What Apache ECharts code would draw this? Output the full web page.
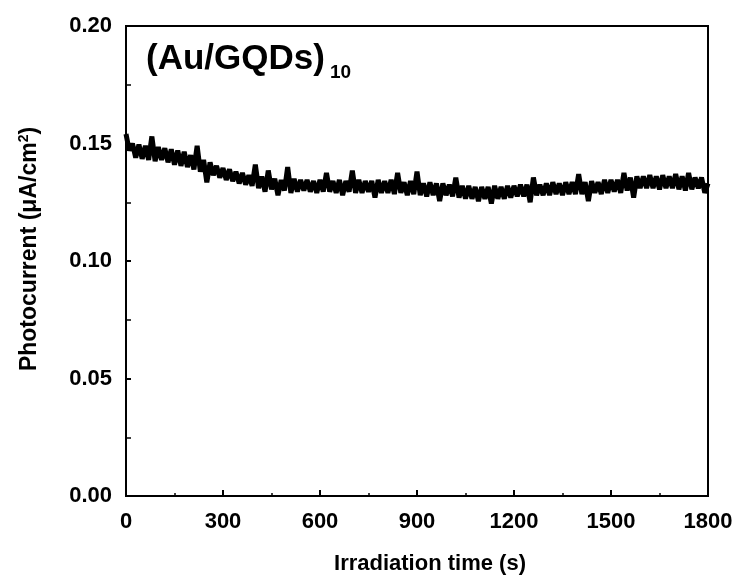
<!DOCTYPE html>
<html>
<head>
<meta charset="utf-8">
<script src="https://cdn.jsdelivr.net/npm/echarts@6/dist/echarts.min.js"></script>
<style>html,body{margin:0;padding:0;background:#fff}#c{width:744px;height:581px}</style>
</head>
<body>
<div id="c"></div>
<script>
const timeStep = 10; // seconds between samples
const photocurrent = [
0.1540,0.1470,0.1500,0.1440,0.1495,0.1435,0.1490,0.1430,0.1530,0.1425,
0.1485,0.1430,0.1480,0.1420,0.1475,0.1410,0.1470,0.1405,0.1465,0.1400,
0.1450,0.1390,0.1490,0.1380,0.1430,0.1335,0.1420,0.1365,0.1405,0.1355,
0.1395,0.1345,0.1390,0.1340,0.1380,0.1330,0.1375,0.1325,0.1365,0.1320,
0.1410,0.1310,0.1360,0.1295,0.1385,0.1305,0.1350,0.1280,0.1345,0.1300,
0.1400,0.1290,0.1350,0.1295,0.1345,0.1300,0.1345,0.1295,0.1340,0.1290,
0.1345,0.1295,0.1375,0.1295,0.1340,0.1290,0.1345,0.1280,0.1340,0.1295,
0.1385,0.1290,0.1345,0.1290,0.1340,0.1295,0.1340,0.1270,0.1345,0.1290,
0.1340,0.1290,0.1345,0.1285,0.1375,0.1290,0.1335,0.1280,0.1340,0.1285,
0.1380,0.1280,0.1330,0.1275,0.1335,0.1280,0.1330,0.1255,0.1330,0.1280,
0.1325,0.1275,0.1355,0.1270,0.1320,0.1265,0.1320,0.1265,0.1315,0.1255,
0.1315,0.1265,0.1315,0.1245,0.1320,0.1265,0.1315,0.1265,0.1320,0.1270,
0.1320,0.1275,0.1325,0.1275,0.1325,0.1250,0.1355,0.1280,0.1325,0.1280,
0.1330,0.1280,0.1335,0.1285,0.1330,0.1280,0.1335,0.1285,0.1335,0.1285,
0.1370,0.1285,0.1335,0.1255,0.1340,0.1290,0.1335,0.1285,0.1345,0.1290,
0.1345,0.1295,0.1345,0.1290,0.1375,0.1300,0.1355,0.1270,0.1360,0.1310,
0.1360,0.1310,0.1365,0.1310,0.1360,0.1305,0.1365,0.1310,0.1360,0.1310,
0.1370,0.1305,0.1360,0.1300,0.1375,0.1305,0.1355,0.1310,0.1355,0.1290,
0.1330
];
const xTicks = [0, 300, 600, 900, 1200, 1500, 1800];
const yTicks = [0.00, 0.05, 0.10, 0.15, 0.20];

const data = photocurrent.map((v, i) => [i * timeStep, v]);
const font = '"Liberation Sans", Arial, sans-serif';
const chart = echarts.init(document.getElementById('c'));
chart.setOption({
  animation: false,
  backgroundColor: '#fff',
  grid: { left: 126, right: 36, top: 26, bottom: 85, outerBoundsMode: 'none', containLabel: false,
          show: true, borderColor: '#000', borderWidth: 2, backgroundColor: 'transparent' },
  title: {
    text: '(Au/GQDs){s|10}',
    left: 141, top: 32,
    textStyle: { fontFamily: font, fontWeight: 'bold', fontSize: 35, color: '#000',
      rich: { s: { fontFamily: font, fontWeight: 'bold', fontSize: 19, color: '#000', padding: [26, 0, 0, 5] } } }
  },
  xAxis: {
    type: 'value', min: xTicks[0], max: xTicks[xTicks.length - 1], interval: 300,
    name: 'Irradiation time (s)', nameLocation: 'middle', nameGap: 57,
    nameTextStyle: { fontFamily: font, fontWeight: 'bold', fontSize: 22, color: '#000', padding: [0, 0, 0, 26] },
    axisLine: { show: true, lineStyle: { color: '#000', width: 2 } },
    axisTick: { show: true, inside: true, length: 6, lineStyle: { color: '#000', width: 2 } },
    minorTick: { show: true, splitNumber: 2, length: 3, lineStyle: { color: '#000', width: 1.5 } },
    axisLabel: { margin: 15, fontFamily: font, fontWeight: 'bold', fontSize: 22, color: '#000',
      formatter: v => String(v) },
    splitLine: { show: false }
  },
  yAxis: {
    type: 'value', min: yTicks[0], max: yTicks[yTicks.length - 1], interval: 0.05,
    name: 'Photocurrent (μA/cm{sup|2})', nameLocation: 'middle', nameGap: 83,
    nameTextStyle: { fontFamily: font, fontWeight: 'bold', fontSize: 23, color: '#000', padding: [0, 0, 0, 24],
      rich: { sup: { fontFamily: font, fontWeight: 'bold', fontSize: 14, color: '#000', padding: [0, 0, 12, 0] } } },
    axisLine: { show: true, lineStyle: { color: '#000', width: 2 } },
    axisTick: { show: true, inside: true, length: 5, lineStyle: { color: '#000', width: 2 } },
    minorTick: { show: true, splitNumber: 2, length: 5, lineStyle: { color: '#000', width: 1.5 } },
    axisLabel: { margin: 14, fontFamily: font, fontWeight: 'bold', fontSize: 22, color: '#000',
      formatter: v => v.toFixed(2) },
    splitLine: { show: false }
  },
  series: [{
    type: 'line', data: data, showSymbol: false, symbol: 'none',
    lineStyle: { color: '#000', width: 5, join: 'bevel' }, z: 1
  }]
});
</script>
</body>
</html>
